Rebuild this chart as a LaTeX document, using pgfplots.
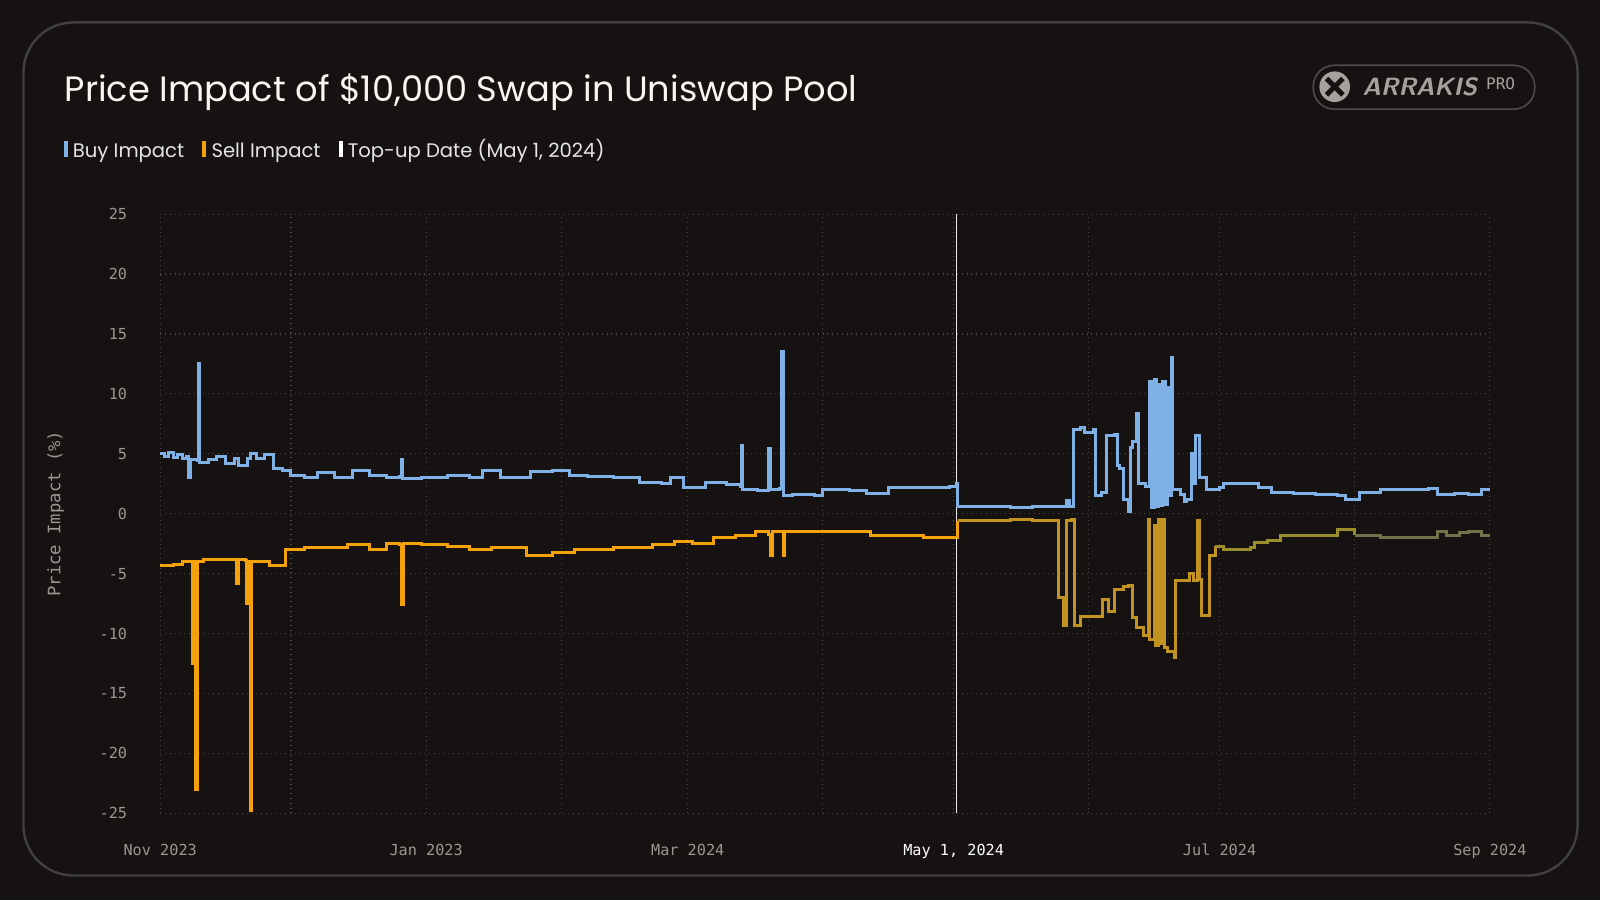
\documentclass[border=0pt]{standalone}
\usepackage{pgfplots}
\pgfplotsset{compat=1.18}
\usepackage{fontspec}
\setmainfont{Poppins}
\newfontfamily\monof{DejaVu Sans Mono}
\definecolor{bg}{HTML}{151211}
\definecolor{buy}{HTML}{7FB0E6}
\definecolor{sellA}{HTML}{F5A10C}
\definecolor{sellB}{HTML}{C39322}
\definecolor{sellC}{HTML}{9A8E2A}
\definecolor{sellD}{HTML}{6E7448}
\definecolor{tick}{HTML}{9A9793}
\definecolor{gridc}{HTML}{4A4744}
\begin{document}
\begin{tikzpicture}[x=0.5102pt,y=0.5102pt]
\useasboundingbox (0,0) rectangle (1568,882);
\fill[bg] (0,0) rectangle (1568,882);
\draw[draw=black!75!white, line width=1.2, fill=bg, rounded corners=25pt] (23,24) rectangle (1546,860);
\node[anchor=base west, text=white!92!brown, font=\fontsize{17.6}{20}\selectfont, inner sep=0] at (63,783) {Price Impact of \$10,000 Swap in Uniswap Pool};
\node[anchor=base west, text=white!80!gray, font=\fontsize{9.8}{12}\selectfont, inner sep=0] at (62,728)
 {\textcolor{buy}{\rule{2pt}{8pt}} Buy Impact\hspace{9pt}\textcolor{sellA}{\rule{2pt}{8pt}} Sell Impact\hspace{9pt}\textcolor{white}{\rule{2pt}{8pt}} Top-up Date (May 1, 2024)};
\draw[black!70!white, line width=0.8, rounded corners=10.5pt] (1287,775) rectangle (1504,818);
\fill[tick!90!white] (1308,797) circle (15);
\draw[bg, line width=2.5] (1300,789) -- (1316,805) (1300,805) -- (1316,789);
\node[anchor=west, text=tick!90!white, font=\sffamily\bfseries\itshape\fontsize{12.5}{14}\selectfont, inner sep=0] at (1335,797) {ARRAKIS};
\node[anchor=west, text=tick!90!white, font=\monof\fontsize{8}{9}\selectfont, inner sep=0] at (1456,800) {PRO};
\begin{axis}[at={(80.1pt,43.4pt)}, anchor=south west, scale only axis,
 width=664.8pt, height=299.5pt,
 xmin=0, xmax=305, ymin=-25, ymax=25,
 axis line style={draw=none}, tick style={draw=none},
 xtick={0,61,121,182,243,305},
 xticklabels={Nov 2023,Jan 2023,Mar 2024,\textcolor{white}{May 1, 2024},Jul 2024,Sep 2024},
 minor xtick={30,92,152,213,274},
 ytick={-25,-20,...,25},
 grid=both, major grid style={gridc, dotted, line width=0.6},
 minor grid style={gridc, dotted, line width=0.6},
 ticklabel style={text=tick, font=\monof\fontsize{7.6}{8}\selectfont},
 /pgf/number format/assume math mode=true,
 xticklabel style={yshift=-12pt}, yticklabel style={xshift=-13pt},
 ylabel={Price Impact (\%)}, ylabel style={text=tick, font=\monof\fontsize{8.6}{9}\selectfont, yshift=11pt},
 clip=false]
\addplot[white!85!gray, line width=0.5] coordinates {(182.7,-25) (182.7,25)};
\addplot[buy, line width=1.5, const plot] coordinates {
(0,5.0)(1,4.8)(2,5.1)(3,4.7)(4,4.9)(5,4.6)(6,4.8)(6.5,3.0)(7,4.5)(8.5,4.4)(8.7,12.5)(9,4.3)(11,4.5)(13,4.8)(15,4.2)(17,4.6)(18,4.0)(20,4.6)(20.6,5.0)(22,4.6)(24,4.9)(26,3.8)(28,3.6)(30,3.2)(33,3.0)(36,3.4)(40,3.0)(44,3.6)(48,3.2)(52,3.0)(55,3.1)(55.3,4.5)(55.6,2.9)(60,3.0)(66,3.2)(71,3.0)(74,3.6)(78,3.0)(85,3.5)(90,3.6)(94,3.2)(98,3.1)(104,3.0)(110,2.6)(115,2.5)(117,3.0)(120,2.2)(125,2.6)(130,2.4)(133,2.3)(133.3,5.7)(133.6,2.0)(137,1.9)(139.6,5.4)(140,2.0)(142,2.1)(142.5,13.5)(143,1.5)(145,1.6)(150,1.5)(152,2.0)(158,1.9)(162,1.7)(167,2.2)(175,2.2)(181,2.3)(182.7,2.5)
(183,0.6)(190,0.6)(195,0.5)(200,0.6)(207,0.6)(208,1.1)(208.5,0.6)(209.6,7.0)(211,7.2)(212,6.8)(214,7.0)(214.5,1.5)(216,1.8)(217,6.5)(219,6.6)(219.5,4.0)(220,3.8)(221,1.2)(222,0.2)(222.5,5.5)(223,6.0)(224,8.4)(224.5,2.5)(226,2.3)(227,11)(227.5,0.5)(228,11.2)(228.5,0.6)(229,10.8)(229.5,0.7)(230,11)(230.5,0.8)(231,10.5)(231.5,1.5)(232,13)(232.3,2.0)(234,1.6)(235,1.0)(235.5,1.2)(236.5,5.0)(237,2.5)(237.5,6.5)(238.5,3.0)(240,2.0)(243,2.2)(244,2.5)(248,2.5)(252,2.2)(255,1.8)(260,1.7)(265,1.6)(270,1.5)(272,1.2)(275,1.8)(280,2.0)(285,2.0)(291,2.1)(293,1.6)(297,1.7)(300,1.6)(303,2.0)(305,2.0)};
\addplot[sellA, line width=1.5, const plot] coordinates {
(0,-4.3)(3,-4.2)(5,-4.0)(7,-4.0)(7.5,-12.5)(8,-4.0)(8.2,-23)(8.6,-4.0)(10,-3.8)(15,-3.8)(17.4,-3.9)(17.6,-5.8)(17.9,-3.8)(19.5,-3.9)(19.7,-7.5)(20,-4.0)(20.6,-24.8)(21,-4.0)(25,-4.3)(26,-4.3)(28.8,-3.0)(33,-2.8)(38,-2.8)(43,-2.6)(48,-3.0)(52,-2.5)(55,-2.6)(55.3,-7.6)(55.7,-2.5)(60,-2.6)(66,-2.7)(71,-3.0)(76,-2.8)(80,-2.8)(84,-3.5)(90,-3.2)(95,-3.0)(104,-2.8)(113,-2.6)(118,-2.3)(122,-2.5)(127,-2.0)(132,-1.8)(136.5,-1.5)(139.5,-1.7)(140,-3.5)(140.5,-1.5)(142.6,-1.5)(142.9,-3.5)(143.3,-1.5)(150,-1.5)(157,-1.5)(163,-1.8)(169,-1.8)(175,-2.0)(182.7,-2.0)(183,-0.6)};
\addplot[sellB, line width=1.5, const plot] coordinates {
(183,-0.6)(190,-0.6)(195,-0.5)(200,-0.6)(204.5,-0.6)(206,-7)(207.1,-9.3)(208,-0.6)(209,-0.5)(209.8,-9.3)(211,-8.6)(214,-8.6)(215,-8.6)(216.2,-7.2)(217.5,-8.2)(219,-6.3)(221,-6.1)(222,-6.0)(223,-8.7)(224,-9.5)(225.5,-10.2)(226.7,-0.5)(227,-10.5)(228,-1.0)(228.3,-11)(229,-0.5)(229.3,-10.8)(230,-0.5)(230.3,-11.2)(231,-11.5)(232.6,-12.0)(233,-5.6)(235,-5.6)(236,-5.0)(237,-5.6)(237.9,-0.6)(238.3,-5.5)(238.8,-8.5)(240.7,-3.5)(242,-2.7)};
\addplot[sellC, line width=1.5, const plot] coordinates {
(242,-2.7)(244,-3.0)(248,-3.0)(250,-2.8)(251,-2.4)(254,-2.2)(257,-1.8)(262,-1.8)(267,-1.8)(270,-1.3)(272,-1.3)(274,-1.8)};
\addplot[sellD, line width=1.5, const plot] coordinates {
(274,-1.8)(280,-2.0)(285,-2.0)(290,-2.0)(293,-1.5)(295,-1.8)(298,-1.6)(300,-1.5)(303,-1.8)(305,-1.8)};
\end{axis}
\end{tikzpicture}
\end{document}
